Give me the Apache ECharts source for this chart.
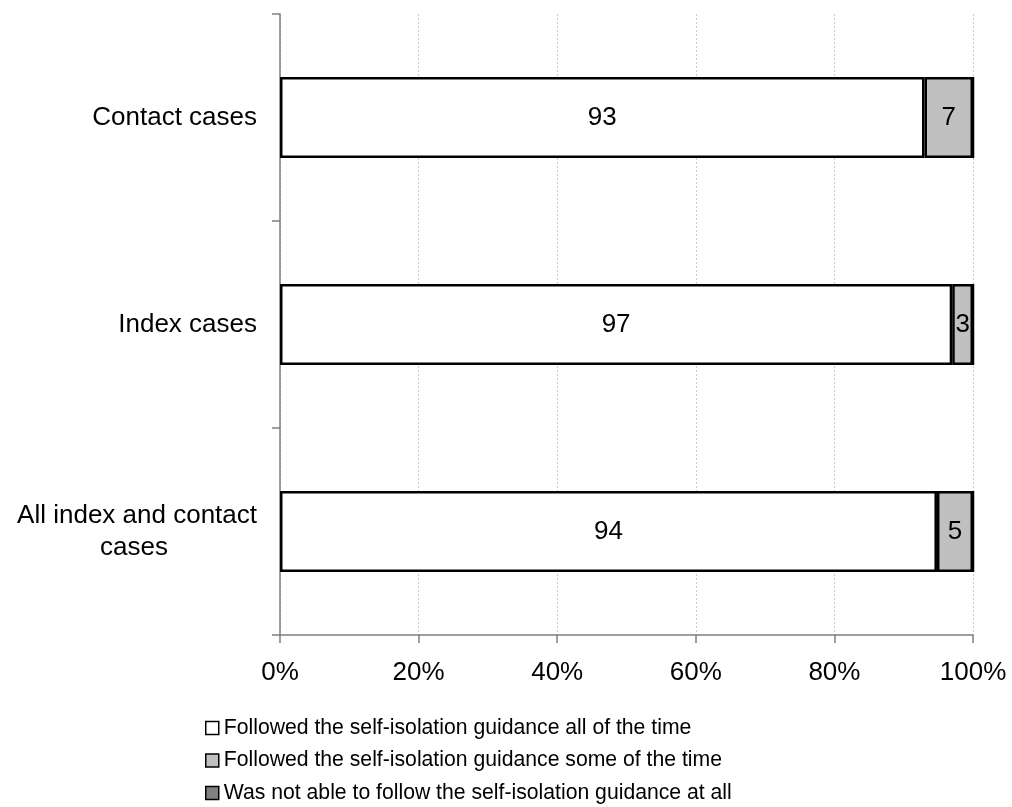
<!DOCTYPE html>
<html>
<head>
<meta charset="utf-8">
<script src="https://cdn.jsdelivr.net/npm/echarts@6/dist/echarts.min.js"></script>
<style>
html,body{margin:0;padding:0;background:#fff;}
#c{width:1012px;height:807px;}
</style>
</head>
<body>
<div id="c"></div>
<script>
var categories = ['Contact cases', 'Index cases', 'All index and contact cases'];
var seriesNames = [
  'Followed the self-isolation guidance all of the time',
  'Followed the self-isolation guidance some of the time',
  'Was not able to follow the self-isolation guidance at all'
];
var allTime = [93, 97, 94.8];
var someTime = [7, 3, 5.2];
var notAtAll = [0, 0, 0];
var xTicks = [0, 20, 40, 60, 80, 100];

var FONT = '"Liberation Sans", Arial, sans-serif';
var chart = echarts.init(document.getElementById('c'), null, {renderer: 'canvas'});

function barSeries(name, data, color, showLabel) {
  return {
    name: name,
    type: 'bar',
    stack: 'total',
    data: data,
    barWidth: 81,
    itemStyle: {color: color, borderColor: '#000', borderWidth: 2.5},
    label: {
      show: showLabel,
      position: 'inside',
      color: '#000',
      fontFamily: FONT,
      fontSize: 26,
      formatter: function (p) { return String(Math.floor(p.value)); }
    },
    emphasis: {disabled: true}
  };
}

chart.setOption({
  animation: false,
  backgroundColor: '#fff',
  grid: {left: 280, right: 39, top: 14, bottom: 172, containLabel: false},
  xAxis: {
    type: 'value',
    min: xTicks[0],
    max: xTicks[xTicks.length - 1],
    interval: 20,
    axisLine: {show: true, lineStyle: {color: '#808080', width: 1.5}},
    axisTick: {show: true, length: 8, inside: false, lineStyle: {color: '#808080', width: 1.5}},
    axisLabel: {
      margin: 25,
      color: '#000',
      fontFamily: FONT,
      fontSize: 26,
      formatter: function (v) { return v + '%'; }
    },
    splitLine: {show: true, lineStyle: {color: '#c8c8c8', type: [2, 2], width: 1}}
  },
  yAxis: {
    type: 'category',
    inverse: true,
    data: categories,
    axisLine: {show: true, lineStyle: {color: '#808080', width: 1.5}},
    axisTick: {show: true, length: 8, lineStyle: {color: '#808080', width: 1.5}},
    axisLabel: {
      margin: 23,
      color: '#000',
      fontFamily: FONT,
      fontSize: 26,
      lineHeight: 32,
      formatter: function (v) {
        if (v === 'All index and contact cases') {
          return '{a|All index and contact}\n{b|cases}';
        }
        return '{a|' + v + '}';
      },
      rich: {
        a: {fontFamily: FONT, fontSize: 26, lineHeight: 32, color: '#000'},
        b: {fontFamily: FONT, fontSize: 26, lineHeight: 32, color: '#000', width: 246, align: 'center'}
      }
    },
    splitLine: {show: false}
  },
  legend: {
    orient: 'vertical',
    left: 205,
    top: 717,
    padding: 0,
    itemWidth: 13,
    itemHeight: 13,
    itemGap: 10.5,
    icon: 'rect',
    data: seriesNames,
    itemStyle: {borderColor: '#000', borderWidth: 1.5},
    textStyle: {fontFamily: FONT, fontSize: 21.2, color: '#000', lineHeight: 22}
  },
  series: [
    barSeries(seriesNames[0], allTime, '#ffffff', true),
    barSeries(seriesNames[1], someTime, '#c0c0c0', true),
    barSeries(seriesNames[2], notAtAll, '#808080', false)
  ]
});
</script>
</body>
</html>
